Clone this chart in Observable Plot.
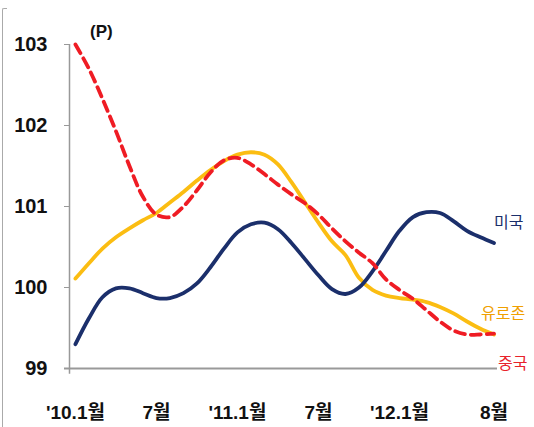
<!DOCTYPE html>
<html>
<head>
<meta charset="utf-8">
<script src="https://cdn.jsdelivr.net/npm/d3@7"></script>
<script src="https://cdn.jsdelivr.net/npm/@observablehq/plot@0.6"></script>
<style>
  html, body { margin: 0; padding: 0; background: #fff; }
  #wrap { position: relative; width: 534px; height: 427px; overflow: hidden; }
  #frame { position: absolute; left: 2px; top: 8px; width: 4px; height: 440px;
           border-left: 1.5px solid #aaa; border-top: 1.5px solid #aaa; border-top-left-radius: 2px; }
  #unit { position: absolute; left: 90px; top: 22px; font: bold 17px "Liberation Sans Narrow", "Liberation Sans", sans-serif; color: #111; }
</style>
</head>
<body>
<div id="wrap"><div id="frame"></div><div id="unit">(P)</div></div>
<script>
// month index 0 = 2010.1 ... 31 = 2012.8
const months = d3.range(32);
const usa = [99.30, 99.62, 99.88, 99.99, 99.99, 99.93, 99.87, 99.87, 99.93, 100.05,
  100.25, 100.48, 100.68, 100.78, 100.80, 100.72, 100.55, 100.35, 100.15, 99.98,
  99.92, 100.00, 100.20, 100.45, 100.70, 100.87, 100.93, 100.92, 100.82, 100.70,
  100.62, 100.55];
const euro = [100.11, 100.30, 100.48, 100.62, 100.73, 100.83, 100.92, 101.05, 101.18, 101.32,
  101.45, 101.56, 101.64, 101.67, 101.64, 101.52, 101.30, 101.05, 100.80, 100.57,
  100.40, 100.12, 99.97, 99.90, 99.87, 99.85, 99.82, 99.76, 99.68, 99.58,
  99.49, 99.42];
const china = [103.00, 102.70, 102.33, 101.93, 101.50, 101.12, 100.90, 100.87, 101.00, 101.20,
  101.42, 101.57, 101.60, 101.52, 101.40, 101.27, 101.15, 101.04, 100.90, 100.73,
  100.57, 100.43, 100.30, 100.10, 99.97, 99.86, 99.72, 99.58, 99.47, 99.42,
  99.42, 99.43];
const seriesNames = ["미국", "유로존", "중국"];
const seriesColors = ["#1b2f6b", "#fbbd12", "#ef1c24"];
const labelColors = ["#1b2f6b", "#f0a000", "#e8232b"];
const yTicks = [99, 100, 101, 102, 103];
const xTickIdx = [0, 6, 12, 18, 24, 31];
const xTickLabels = ["'10.1월", "7월", "'11.1월", "7월", "'12.1월", "8월"];

const rows = (vals) => months.map((m, i) => ({m, v: vals[i]}));
const font = '"Liberation Sans Narrow", "Liberation Sans", "Noto Sans CJK KR", sans-serif';
const kfont = '"Noto Sans CJK KR", sans-serif';
const xDom = [-0.44, 31.26];
const seriesVals = [usa, euro, china];
const labelOffsets = [[0, -20], [-13, -21], [4, 30]];

const labelMarks = seriesNames.map((name, k) =>
  Plot.text([{m: 31, v: seriesVals[k][31], name}], {x: "m", y: "v", text: "name",
    fill: labelColors[k], textAnchor: "start", dx: labelOffsets[k][0], dy: labelOffsets[k][1],
    fontSize: 16, fontFamily: kfont}));

const chart = Plot.plot({
  width: 534, height: 427,
  marginLeft: 69, marginRight: 37, marginTop: 44, marginBottom: 59,
  style: {fontFamily: font, background: "transparent", overflow: "visible"},
  x: {type: "linear", domain: xDom, axis: null},
  y: {type: "linear", domain: [99, 103], axis: null},
  marks: [
    Plot.ruleY([99], {x1: xDom[0] - 0.37, x2: xDom[1], stroke: "#999", strokeWidth: 2}),
    Plot.ruleX([xDom[0]], {y1: 98.93, y2: 103, stroke: "#999", strokeWidth: 1.5}),
    Plot.axisY({ticks: yTicks, tickFormat: d => String(d), label: null, tickSize: 5, tickPadding: 17,
      stroke: "#999", fill: "#111", fontSize: 20, fontWeight: "bold", fontFamily: font, anchor: "left"}),
    Plot.text(xTickIdx, {x: d => d, y: 99, text: (d, i) => xTickLabels[i], dy: 44,
      fontSize: 19, fontWeight: "bold", fill: "#111", fontFamily: font}),
    Plot.line(rows(euro), {x: "m", y: "v", stroke: seriesColors[1], strokeWidth: 3.8, curve: "catmull-rom"}),
    Plot.line(rows(usa), {x: "m", y: "v", stroke: seriesColors[0], strokeWidth: 3.8, curve: "catmull-rom"}),
    Plot.line(rows(china), {x: "m", y: "v", stroke: seriesColors[2], strokeWidth: 3.8, strokeDasharray: "10,6", curve: "catmull-rom"}),
    ...labelMarks
  ]
});
document.getElementById("wrap").prepend(chart);
chart.style.position = "absolute";
chart.style.left = "0"; chart.style.top = "0";
</script>
</body>
</html>
